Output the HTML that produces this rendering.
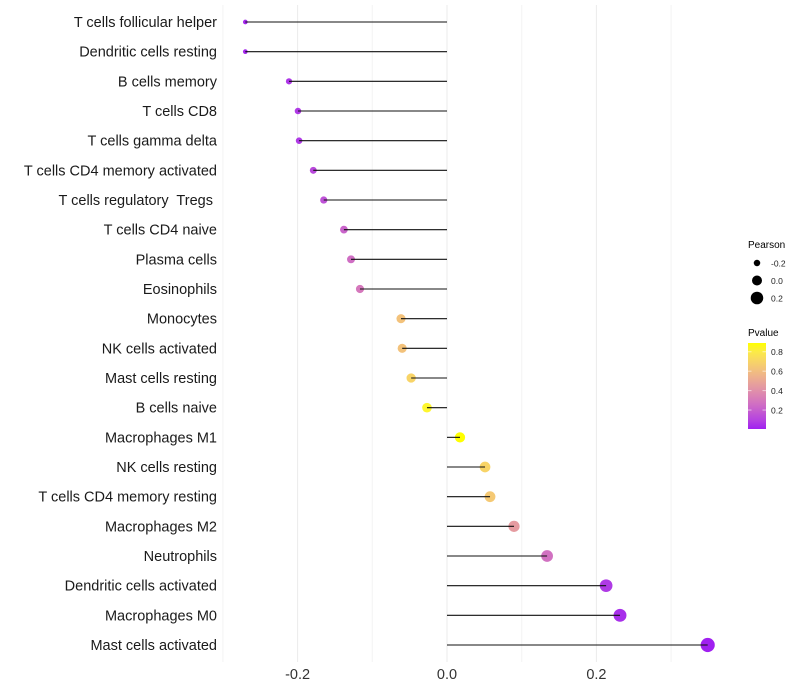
<!DOCTYPE html>
<html><head><meta charset="utf-8"><style>
body{margin:0;background:#fff;}
svg{display:block;font-family:"Liberation Sans",sans-serif;}
text{white-space:pre;}
</style></head><body>
<svg id="chart" width="800" height="700"></svg>
<script>
const categories=["T cells follicular helper","Dendritic cells resting","B cells memory","T cells CD8","T cells gamma delta","T cells CD4 memory activated","T cells regulatory  Tregs ","T cells CD4 naive","Plasma cells","Eosinophils","Monocytes","NK cells activated","Mast cells resting","B cells naive","Macrophages M1","NK cells resting","T cells CD4 memory resting","Macrophages M2","Neutrophils","Dendritic cells activated","Macrophages M0","Mast cells activated"];
const pearson=[-0.270,-0.270,-0.2115,-0.1995,-0.198,-0.179,-0.165,-0.138,-0.1285,-0.1165,-0.0616,-0.060,-0.048,-0.0268,0.0174,0.0509,0.0576,0.0897,0.134,0.213,0.2316,0.349];
const pvalue=[0.02,0.02,0.06,0.07,0.07,0.12,0.15,0.22,0.26,0.30,0.62,0.62,0.70,0.85,0.89,0.70,0.65,0.45,0.27,0.07,0.04,0.005];
const xTicks=[-0.2,0.0,0.2];
const xTickLabels=["-0.2","0.0","0.2"];
const sizeLegend=[-0.2,0.0,0.2];
const colorTicks=[0.2,0.4,0.6,0.8];

const NS="http://www.w3.org/2000/svg";
const svg=document.getElementById('chart');
function el(t,a,p){const e=document.createElementNS(NS,t);for(const k in a)e.setAttribute(k,a[k]);(p||svg).appendChild(e);return e;}
const x=v=>447+v*747;
const y=i=>22+i*29.667;
const rad=v=>Math.sqrt(Math.max(4,25+72*v));
const pMin=0.005,pMax=0.89;
function toLab(r,g,b){const f=c=>{c/=255;return c<=0.04045?c/12.92:Math.pow((c+0.055)/1.055,2.4)};r=f(r);g=f(g);b=f(b);
let X=(r*0.4124+g*0.3576+b*0.1805)/0.95047,Y=r*0.2126+g*0.7152+b*0.0722,Z=(r*0.0193+g*0.1192+b*0.9505)/1.08883;
const h=t=>t>0.008856?Math.cbrt(t):7.787*t+16/116;X=h(X);Y=h(Y);Z=h(Z);return[116*Y-16,500*(X-Y),200*(Y-Z)];}
function fromLab(L,a,b){let Y=(L+16)/116,X=a/500+Y,Z=Y-b/200;const h=t=>t**3>0.008856?t**3:(t-16/116)/7.787;
X=h(X)*0.95047;Y=h(Y);Z=h(Z)*1.08883;let r=X*3.2406+Y*-1.5372+Z*-0.4986,g=X*-0.9689+Y*1.8758+Z*0.0415,bb=X*0.0557+Y*-0.2040+Z*1.0570;
const f=c=>{c=c>0.0031308?1.055*Math.pow(c,1/2.4)-0.055:12.92*c;return Math.round(Math.max(0,Math.min(1,c))*255)};return `rgb(${f(r)},${f(g)},${f(bb)})`;}
const lo=toLab(160,32,240),hi=toLab(255,255,0);
function col(p){let t=(p-pMin)/(pMax-pMin);t=Math.max(0,Math.min(1,t));return fromLab(lo[0]+(hi[0]-lo[0])*t,lo[1]+(hi[1]-lo[1])*t,lo[2]+(hi[2]-lo[2])*t);}

for(let v=-0.3;v<=0.31;v+=0.1){const g=el('line',{x1:x(v),x2:x(v),y1:5,y2:662,stroke:Math.abs(Math.round(v*10))%2===0?'#ebebeb':'#f3f3f3','stroke-width':1});

}
categories.forEach((c,i)=>{
 const t=el('text',{x:217,y:y(i)+5,'text-anchor':'end','font-size':14.5,fill:'#1a1a1a'});t.textContent=c;
 
 
 const pt=el('circle',{cx:x(pearson[i]),cy:y(i),r:rad(pearson[i]),fill:col(pvalue[i])});
 
 
 const ln=el('line',{x1:x(0),x2:x(pearson[i]),y1:y(i),y2:y(i),stroke:'#111','stroke-width':1.1});
 
 
});
xTicks.forEach((v,i)=>{const t=el('text',{x:x(v),y:679,'text-anchor':'middle','font-size':14.5,fill:'#333'});t.textContent=xTickLabels[i];
 
 });
let t=el('text',{x:748,y:248,'font-size':10,fill:'#000'});t.textContent='Pearson';

sizeLegend.forEach((v,i)=>{const cy=263+i*17.5;const c=el('circle',{cx:757,cy:cy,r:rad(v),fill:'#000'});
 
 const tt=el('text',{x:771,y:cy+3.5,'font-size':8.5,fill:'#222'});tt.textContent=v.toFixed(1);
 });
t=el('text',{x:748,y:336,'font-size':10,fill:'#000'});t.textContent='Pvalue';

const defs=el('defs',{});const gr=el('linearGradient',{id:'pg',x1:0,y1:1,x2:0,y2:0},defs);
for(let k=0;k<=10;k++){el('stop',{offset:k/10,'stop-color':col(pMin+(pMax-pMin)*k/10)},gr);}
const barTop=343,barBot=429,py=p=>barBot-(p-pMin)/(pMax-pMin)*(barBot-barTop);
const bar=el('rect',{x:748,y:barTop,width:18,height:barBot-barTop,fill:'url(#pg)'});

colorTicks.forEach(v=>{el('line',{x1:748,x2:751.5,y1:py(v),y2:py(v),stroke:'#fff','stroke-opacity':0.6});el('line',{x1:762.5,x2:766,y1:py(v),y2:py(v),stroke:'#fff','stroke-opacity':0.6});
 const tt=el('text',{x:771,y:py(v)+3.5,'font-size':8.5,fill:'#222'});tt.textContent=v.toFixed(1);
 });
</script>
</body></html>
